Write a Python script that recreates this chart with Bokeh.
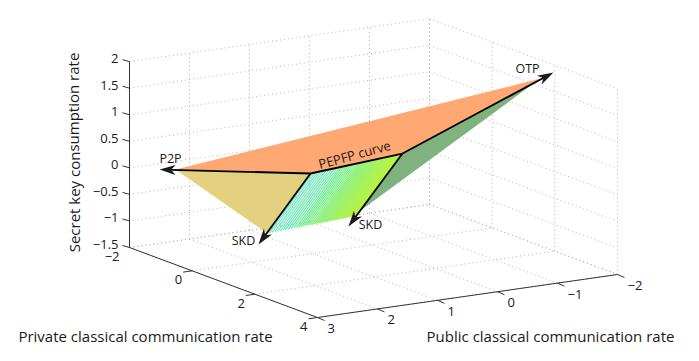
import numpy as np
from bokeh.plotting import figure
from bokeh.embed import file_html
from bokeh.resources import INLINE
from bokeh.models import Range1d
from bokeh.core.properties import value

# Axis ranges and ticks
private_ticks = [-2, 0, 2, 4]
public_ticks = [3, 2, 1, 0, -1, -2]
z_ticks = [-1.5, -1, -0.5, 0, 0.5, 1, 1.5, 2]
z_labels = ["\u22121.5", "\u22121", "\u22120.5", "0", "0.5", "1", "1.5", "2"]
private_labels = ["\u22122", "0", "2", "4"]
public_labels = ["3", "2", "1", "0", "\u22121", "\u22122"]

# Points as (public, private, secret key)
p2p_tip = (2.76, -1.5, 0.04)
p2p_base = (2.6, -1.3, 0.058)
curve_start = (1.55, 1.0, 0.318)
curve_end = (0.121, 1.2, 0.507)
otp_tip = (-1.82, 2.3, 1.96)
otp_base = (-1.657, 2.2, 1.851)
skd1_tip = (2.678, 1.5, -0.726)
skd1_base = (2.528, 1.5, -0.543)
skd2_tip = (1.439, 2.0, -0.478)
skd2_base = (1.288, 2.0, -0.296)
green_low = (1.239, 2.0, -0.209)

# Where the hatch strokes of the SKD surface sit, from left to right
stripe_pos = [0.02, 0.05, 0.08, 0.11, 0.14, 0.17, 0.20, 0.23, 0.26, 0.29, 0.32, 0.345,
              0.37, 0.395, 0.42, 0.445, 0.47, 0.495, 0.52, 0.54, 0.56, 0.58, 0.60, 0.62,
              0.64, 0.66, 0.68, 0.70, 0.72, 0.74, 0.76, 0.78, 0.80, 0.82, 0.84, 0.86,
              0.88, 0.90, 0.92, 0.94, 0.96, 0.98]
stripe_anchor = [0.0, 0.25, 0.5, 0.75, 1.0]
stripe_r = [80, 105, 135, 160, 185]
stripe_g = [228, 232, 240, 242, 242]
stripe_b = [185, 170, 130, 90, 60]

ORI = (129.0, 247.0)
PRIV = (31.33, 11.67)
PUB = (60.0, -8.6)
ZV = (0.0, -53.1)


def pr(pt):
    pub, pri, z = pt
    a, b, c = pri + 2, 3 - pub, z + 1.5
    return (ORI[0] + a * PRIV[0] + b * PUB[0] + c * ZV[0],
            ORI[1] + a * PRIV[1] + b * PUB[1] + c * ZV[1])


p = figure(width=683, height=345, output_backend="svg", toolbar_location=None,
           x_range=Range1d(0, 683), y_range=Range1d(345, 0), min_border=0)
p.axis.visible = False
p.grid.visible = False
p.outline_line_color = None

GC = "#b4b4b4"


def seg(a, b, color="black", w=1.0, dash="solid"):
    A, B = pr(a), pr(b)
    p.line([A[0], B[0]], [A[1], B[1]], line_color=color, line_width=w, line_dash=dash)


# Grid on the three back walls
for z in z_ticks:
    seg((3, -2, z), (-2, -2, z), GC, 1, "1 3")
    seg((-2, -2, z), (-2, 4, z), GC, 1, "1 3")
for t in public_ticks:
    seg((t, -2, -1.5), (t, -2, 2), GC, 1, "1 3")
    seg((t, -2, -1.5), (t, 4, -1.5), GC, 1, "1 3")
for t in private_ticks:
    seg((-2, t, -1.5), (-2, t, 2), GC, 1, "1 3")
    seg((3, t, -1.5), (-2, t, -1.5), GC, 1, "1 3")

# Axes
AC = "#333333"
seg((3, -2, -1.5), (3, -2, 2), AC, 1)
seg((3, -2, -1.5), (3, 4, -1.5), AC, 1)
seg((3, 4, -1.5), (-2, 4, -1.5), AC, 1)


def txt(x, y, s, size="13px", angle=0, align="center", baseline="middle"):
    p.text([x], [y], text=[s], text_font_size=size, text_align=align,
           text_baseline=baseline, text_color="#1a1a1a", angle=angle,
           text_font=value("Open Sans"))


for t, s in zip(z_ticks, z_labels):
    x, y = pr((3, -2, t))
    p.line([x - 7, x], [y - 2, y], line_color=AC)
    txt(x - 11, y - 3, s, align="right")
for t, s in zip(private_ticks, private_labels):
    x, y = pr((3, t, -1.5))
    if t > -2:
        p.line([x - 9, x], [y + 1.3, y], line_color=AC)
    txt(x - 10, y + 9, s, align="right")
for t, s in zip(public_ticks, public_labels):
    x, y = pr((t, 4, -1.5))
    p.line([x, x + 7], [y, y + 3], line_color=AC)
    txt(x + 10, y + 11, s, align="left")


# Surfaces
def poly(pts, color):
    q = [pr(a) for a in pts]
    p.patch([a[0] for a in q], [a[1] for a in q], fill_color=color, line_color=None)


poly([p2p_base, curve_start, curve_end, otp_base], "#FFA873")
poly([p2p_base, curve_start, skd1_base], "#E3D17F")
poly([curve_end, otp_base, green_low], "#7FB27F")

# Hatched SKD surface
top0, top1 = np.array(pr(curve_start)), np.array(pr(curve_end))
bot0, bot1 = np.array(pr(skd1_base)), np.array(pr(skd2_base))
for f in stripe_pos:
    a = top0 + (top1 - top0) * f
    b = bot0 + (bot1 - bot0) * f
    col = "#%02x%02x%02x" % (int(np.interp(f, stripe_anchor, stripe_r)),
                             int(np.interp(f, stripe_anchor, stripe_g)),
                             int(np.interp(f, stripe_anchor, stripe_b)))
    p.line([a[0], b[0]], [a[1], b[1]], line_color=col, line_width=1.0 + 0.7 * f)

# Heavy edges and arrows
seg(curve_start, curve_end, "black", 1.8)


def arrow(a, b):
    A, B = np.array(pr(a)), np.array(pr(b))
    d = (B - A) / np.hypot(*(B - A))
    n = np.array([-d[1], d[0]])
    L, W, N = 16.0, 5.0, 11.5
    notch = B - d * N
    p.line([A[0], notch[0]], [A[1], notch[1]], line_color="black", line_width=1.8)
    w1 = B - d * L + n * W
    w2 = B - d * L - n * W
    p.patch([B[0], w1[0], notch[0], w2[0]], [B[1], w1[1], notch[1], w2[1]],
            fill_color="#1a1a1a", line_color=None)


arrow(curve_start, p2p_tip)
arrow(curve_start, skd1_tip)
arrow(curve_end, otp_tip)
arrow(curve_end, skd2_tip)

# Labels
txt(170, 158, "P2P", "12.5px")
txt(527, 68, "OTP", "12.5px")
txt(243, 240, "SKD", "12.5px")
txt(370, 224, "SKD", "12.5px")
txt(354, 154, "PEPFP curve", "13px", angle=0.267)
txt(73, 152, "Secret key consumption rate", "15px", 1.5708)
txt(145, 335, "Private classical communication rate", "15px")
txt(550, 335, "Public classical communication rate", "15px")

open("out.html", "w").write(file_html(p, INLINE))
